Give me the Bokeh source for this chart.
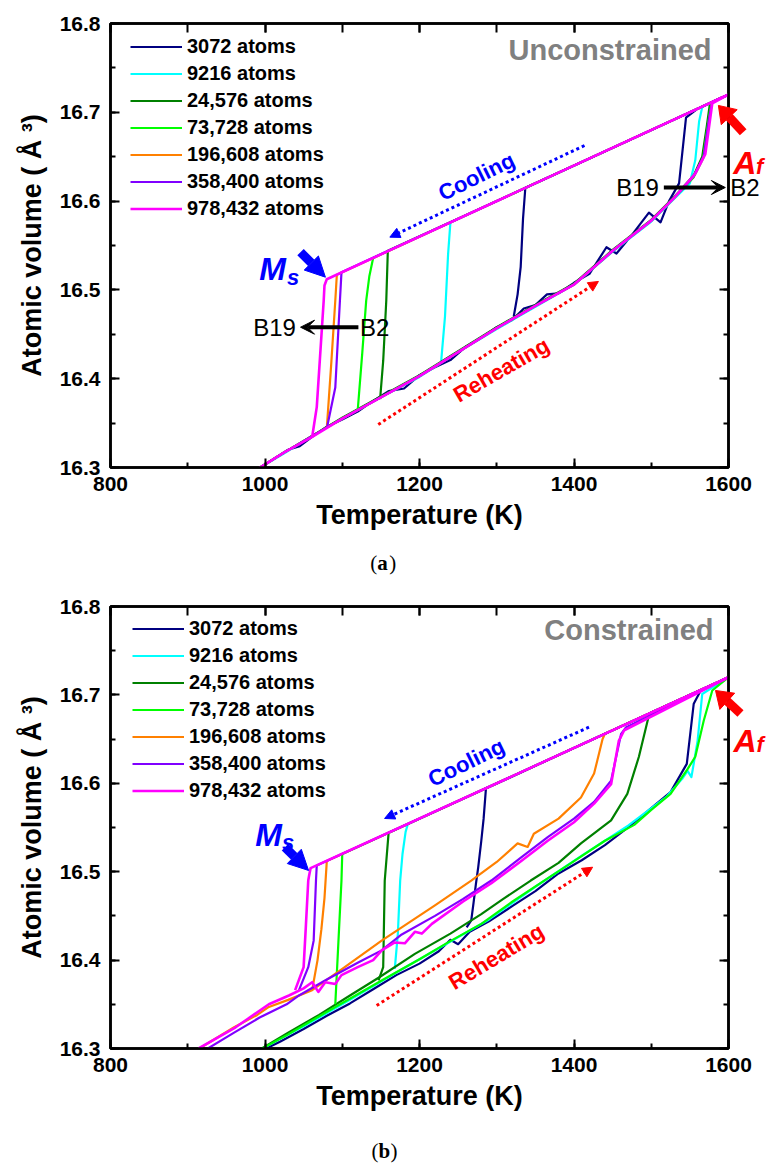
import math
from bokeh.plotting import figure
from bokeh.layouts import column
from bokeh.models import (Label, Arrow, NormalHead, VeeHead, Legend, LegendItem,
                          LinearAxis, SingleIntervalTicker)
from bokeh.core.properties import value
from bokeh.embed import file_html
from bokeh.resources import INLINE

SANS = "Liberation Sans"
SERIF = "Liberation Serif"

RUN_LABELS = ["3072 atoms", "9216 atoms", "24,576 atoms", "73,728 atoms",
              "196,608 atoms", "358,400 atoms", "978,432 atoms"]
RUN_COLORS = ["#000080", "#00FFFF", "#008000", "#00FF00", "#FF8000", "#8000FF", "#FF00FF"]

# ---------------- (a) unconstrained cells ----------------
# cooling: B2 branch from 1600 K down to the martensitic drop
# heating: B19 branch from 990 K up to the reverse jump, then B2 to 1600 K
unc_3072_cool_T = [1600, 1470, 1337, 1334, 1331, 1327, 1322]
unc_3072_cool_V = [16.720, 16.668, 16.615, 16.580, 16.526, 16.495, 16.470]
unc_3072_heat_T = [990, 1010, 1030, 1045, 1060, 1080, 1100, 1120, 1140, 1160, 1180, 1200, 1220,
                   1240, 1260, 1280, 1300, 1320, 1335, 1350, 1365, 1380, 1400, 1420, 1442, 1455,
                   1475, 1497, 1512, 1523, 1536, 1545, 1560, 1600]
unc_3072_heat_V = [16.298, 16.309, 16.320, 16.324, 16.334, 16.346, 16.354, 16.363, 16.375, 16.386,
                   16.389, 16.404, 16.413, 16.421, 16.436, 16.446, 16.458, 16.466, 16.479, 16.483,
                   16.495, 16.496, 16.508, 16.518, 16.548, 16.541, 16.562, 16.587, 16.576, 16.600,
                   16.620, 16.694, 16.704, 16.720]

unc_9216_cool_T = [1600, 1420, 1240, 1237, 1233, 1228]
unc_9216_cool_V = [16.720, 16.648, 16.576, 16.540, 16.470, 16.419]
unc_9216_heat_T = [990, 1025, 1060, 1100, 1150, 1200, 1250, 1300, 1350, 1400, 1450, 1500, 1530,
                   1550, 1557, 1562, 1566, 1600]
unc_9216_heat_V = [16.298, 16.316, 16.335, 16.355, 16.379, 16.402, 16.430, 16.456, 16.481, 16.506,
                   16.543, 16.577, 16.603, 16.620, 16.646, 16.690, 16.706, 16.720]

unc_24576_cool_T = [1600, 1380, 1159, 1157, 1153, 1149]
unc_24576_cool_V = [16.720, 16.632, 16.544, 16.488, 16.420, 16.377]
unc_24576_heat_T = [990, 1025, 1060, 1100, 1150, 1200, 1250, 1300, 1350, 1400, 1450, 1500, 1530,
                    1555, 1566, 1572, 1576, 1600]
unc_24576_heat_V = [16.298, 16.317, 16.335, 16.356, 16.380, 16.404, 16.431, 16.458, 16.483, 16.507,
                    16.545, 16.579, 16.605, 16.629, 16.650, 16.685, 16.710, 16.720]

unc_73728_cool_T = [1600, 1370, 1140, 1135, 1131, 1126, 1120]
unc_73728_cool_V = [16.720, 16.628, 16.536, 16.515, 16.488, 16.430, 16.364]
unc_73728_heat_T = [990, 1025, 1060, 1100, 1150, 1200, 1250, 1300, 1350, 1400, 1450, 1500, 1530,
                    1555, 1567, 1574, 1578, 1600]
unc_73728_heat_V = [16.298, 16.317, 16.335, 16.355, 16.379, 16.403, 16.430, 16.457, 16.482, 16.506,
                    16.544, 16.578, 16.604, 16.627, 16.648, 16.690, 16.711, 16.720]

unc_196608_cool_T = [1600, 1345, 1093, 1091, 1086, 1080]
unc_196608_cool_V = [16.720, 16.618, 16.517, 16.488, 16.420, 16.344]
unc_196608_heat_T = [990, 1025, 1060, 1100, 1150, 1200, 1250, 1300, 1350, 1400, 1450, 1500, 1530,
                     1555, 1568, 1575, 1579, 1600]
unc_196608_heat_V = [16.298, 16.317, 16.335, 16.355, 16.379, 16.403, 16.430, 16.457, 16.482, 16.506,
                     16.544, 16.578, 16.604, 16.628, 16.650, 16.692, 16.712, 16.720]

unc_358400_cool_T = [1600, 1350, 1099, 1097, 1091, 1080]
unc_358400_cool_V = [16.720, 16.620, 16.520, 16.488, 16.390, 16.344]
unc_358400_heat_T = [990, 1025, 1060, 1100, 1150, 1200, 1250, 1300, 1350, 1400, 1450, 1500, 1530,
                     1555, 1568, 1575, 1579, 1600]
unc_358400_heat_V = [16.298, 16.317, 16.335, 16.355, 16.379, 16.403, 16.430, 16.457, 16.482, 16.506,
                     16.544, 16.578, 16.604, 16.628, 16.651, 16.694, 16.712, 16.720]

unc_978432_cool_T = [1600, 1340, 1080, 1077, 1076, 1067, 1061]
unc_978432_cool_V = [16.720, 16.616, 16.512, 16.505, 16.488, 16.368, 16.334]
unc_978432_heat_T = [990, 1025, 1060, 1100, 1150, 1200, 1250, 1300, 1350, 1400, 1450, 1500, 1530,
                     1557, 1570, 1579, 1600]
unc_978432_heat_V = [16.298, 16.317, 16.334, 16.355, 16.379, 16.403, 16.430, 16.457, 16.482, 16.506,
                     16.544, 16.578, 16.604, 16.631, 16.653, 16.710, 16.720]

# ---------------- (b) constrained cells ----------------
con_3072_cool_T = [1600, 1440, 1286, 1283, 1280, 1276, 1273, 1270, 1267, 1261]
con_3072_cool_V = [16.720, 16.656, 16.594, 16.560, 16.535, 16.505, 16.486, 16.465, 16.445, 16.437]
con_3072_heat_T = [990, 1020, 1050, 1080, 1110, 1140, 1170, 1200, 1225, 1240, 1250, 1265, 1290,
                   1320, 1350, 1380, 1410, 1440, 1470, 1500, 1525, 1546, 1555, 1564, 1600]
con_3072_heat_V = [16.295, 16.308, 16.322, 16.337, 16.351, 16.367, 16.383, 16.396, 16.410, 16.423,
                   16.418, 16.432, 16.444, 16.461, 16.478, 16.498, 16.513, 16.530, 16.550, 16.572,
                   16.590, 16.622, 16.690, 16.705, 16.720]

con_9216_cool_T = [1600, 1390, 1185, 1182, 1178, 1175, 1172, 1168]
con_9216_cool_V = [16.720, 16.636, 16.554, 16.545, 16.520, 16.490, 16.430, 16.390]
con_9216_heat_T = [990, 1050, 1110, 1170, 1230, 1290, 1350, 1410, 1470, 1520, 1540, 1547, 1552,
                   1560, 1566, 1600]
con_9216_heat_V = [16.297, 16.325, 16.355, 16.386, 16.416, 16.446, 16.483, 16.518, 16.552, 16.585,
                   16.605, 16.614, 16.607, 16.648, 16.701, 16.720]

con_24576_cool_T = [1600, 1380, 1160, 1155, 1153, 1147]
con_24576_cool_V = [16.720, 16.632, 16.544, 16.490, 16.392, 16.377]
con_24576_heat_T = [990, 1030, 1070, 1110, 1147, 1194, 1240, 1280, 1308, 1344, 1380, 1409, 1448,
                    1469, 1484, 1497, 1502, 1600]
con_24576_heat_V = [16.297, 16.318, 16.338, 16.360, 16.380, 16.407, 16.430, 16.452, 16.469, 16.490,
                    16.510, 16.532, 16.558, 16.588, 16.630, 16.677, 16.681, 16.720]

con_73728_cool_T = [1600, 1350, 1100, 1099, 1095, 1091]
con_73728_cool_V = [16.720, 16.620, 16.520, 16.490, 16.420, 16.350]
con_73728_heat_T = [990, 1030, 1091, 1151, 1200, 1237, 1280, 1320, 1360, 1400, 1440, 1478, 1500,
                    1525, 1547, 1557, 1568, 1579, 1600]
con_73728_heat_V = [16.297, 16.316, 16.347, 16.377, 16.401, 16.420, 16.441, 16.466, 16.489, 16.512,
                    16.535, 16.553, 16.570, 16.588, 16.616, 16.630, 16.671, 16.705, 16.720]

con_196608_cool_T = [1600, 1340, 1080, 1077, 1073, 1068, 1061]
con_196608_cool_V = [16.720, 16.616, 16.512, 16.470, 16.435, 16.400, 16.366]
con_196608_heat_T = [915, 960, 990, 1005, 1030, 1061, 1100, 1151, 1177, 1220, 1267, 1300, 1327,
                     1340, 1348, 1380, 1409, 1426, 1437, 1440, 1600]
con_196608_heat_V = [16.300, 16.324, 16.338, 16.347, 16.355, 16.366, 16.390, 16.422, 16.437, 16.462,
                     16.490, 16.511, 16.532, 16.528, 16.543, 16.560, 16.584, 16.611, 16.650, 16.656,
                     16.720]

con_358400_cool_T = [1600, 1330, 1067, 1066, 1063, 1056, 1044]
con_358400_cool_V = [16.720, 16.612, 16.507, 16.490, 16.422, 16.392, 16.366]
con_358400_heat_T = [926, 960, 993, 1028, 1044, 1080, 1120, 1151, 1177, 1220, 1256, 1293, 1330,
                     1366, 1400, 1426, 1448, 1461, 1467, 1600]
con_358400_heat_V = [16.300, 16.318, 16.335, 16.350, 16.360, 16.378, 16.397, 16.411, 16.429, 16.450,
                     16.469, 16.490, 16.515, 16.539, 16.560, 16.579, 16.603, 16.656, 16.663, 16.720]

con_978432_cool_T = [1600, 1330, 1059, 1057, 1056, 1053, 1050, 1039]
con_978432_cool_V = [16.720, 16.612, 16.504, 16.495, 16.490, 16.440, 16.392, 16.366]
con_978432_heat_T = [914, 962, 1005, 1031, 1050, 1061, 1069, 1078, 1091, 1099, 1120, 1140, 1151,
                     1168, 1181, 1194, 1203, 1216, 1256, 1293, 1330, 1366, 1400, 1426, 1448, 1458,
                     1465, 1600]
con_978432_heat_V = [16.300, 16.324, 16.350, 16.360, 16.368, 16.375, 16.364, 16.375, 16.373, 16.383,
                     16.392, 16.400, 16.411, 16.420, 16.419, 16.432, 16.430, 16.441, 16.466, 16.487,
                     16.511, 16.535, 16.556, 16.577, 16.599, 16.648, 16.660, 16.720]

UNC_RUNS = [
    (unc_3072_cool_T, unc_3072_cool_V, unc_3072_heat_T, unc_3072_heat_V),
    (unc_9216_cool_T, unc_9216_cool_V, unc_9216_heat_T, unc_9216_heat_V),
    (unc_24576_cool_T, unc_24576_cool_V, unc_24576_heat_T, unc_24576_heat_V),
    (unc_73728_cool_T, unc_73728_cool_V, unc_73728_heat_T, unc_73728_heat_V),
    (unc_196608_cool_T, unc_196608_cool_V, unc_196608_heat_T, unc_196608_heat_V),
    (unc_358400_cool_T, unc_358400_cool_V, unc_358400_heat_T, unc_358400_heat_V),
    (unc_978432_cool_T, unc_978432_cool_V, unc_978432_heat_T, unc_978432_heat_V),
]
CON_RUNS = [
    (con_3072_cool_T, con_3072_cool_V, con_3072_heat_T, con_3072_heat_V),
    (con_9216_cool_T, con_9216_cool_V, con_9216_heat_T, con_9216_heat_V),
    (con_24576_cool_T, con_24576_cool_V, con_24576_heat_T, con_24576_heat_V),
    (con_73728_cool_T, con_73728_cool_V, con_73728_heat_T, con_73728_heat_V),
    (con_196608_cool_T, con_196608_cool_V, con_196608_heat_T, con_196608_heat_V),
    (con_358400_cool_T, con_358400_cool_V, con_358400_heat_T, con_358400_heat_V),
    (con_978432_cool_T, con_978432_cool_V, con_978432_heat_T, con_978432_heat_V),
]


def style_axis(ax, labels=True, minor_in=5):
    ax.axis_line_width = 2.5
    ax.axis_line_color = "black"
    ax.major_tick_in = 9
    ax.major_tick_out = 0
    ax.minor_tick_in = minor_in
    ax.minor_tick_out = 0
    ax.major_tick_line_width = 2
    ax.minor_tick_line_width = 2
    if labels:
        ax.major_label_text_font = SANS
        ax.major_label_text_font_style = "bold"
        ax.major_label_text_font_size = "21px"
        ax.major_label_text_color = "black"
        ax.axis_label_text_font = SANS
        ax.axis_label_text_font_style = "bold"
        ax.axis_label_text_font_size = "27px"
        ax.axis_label_text_color = "black"
    else:
        # mirrored frame axis: ticks only
        ax.major_label_text_color = None
        ax.major_label_text_font_size = "8px"
        ax.major_label_standoff = 0


def add_label(p, x, y, text, size, color="black", style="bold", angle=0,
              align="left", baseline="alphabetic"):
    p.add_layout(Label(x=x, y=y, text=text, text_font=SANS, text_font_size=f"{size}px",
                       text_font_style=style, text_color=color, angle=angle,
                       angle_units="deg", text_align=align, text_baseline=baseline))


def add_text(p, x, y, text, size, color="black", style="bold", baseline="alphabetic",
             font=SANS, x_offset=0):
    # text glyph on the overlay level, so it may sit beside the frame
    p.text(x=[x], y=[y], text=[text], text_font=value(font), text_font_size=f"{size}px",
           text_font_style=style, text_color=color, text_baseline=baseline,
           text_align="left", x_offset=x_offset, level="overlay")


def add_caption(p, x, y, letter):
    add_text(p, x, y, "(", 21, style="normal", baseline="middle", font=SERIF, x_offset=-13)
    add_text(p, x, y, letter, 21, style="bold", baseline="middle", font=SERIF, x_offset=-6)
    add_text(p, x, y, ")", 21, style="normal", baseline="middle", font=SERIF, x_offset=6)


def add_arrow(p, x0, y0, x1, y1, color, width, dash="solid", head=None):
    p.add_layout(Arrow(x_start=x0, y_start=y0, x_end=x1, y_end=y1, line_color=color,
                       line_width=width, line_dash=dash, end=head))


def block_arrow(p, x0, y0, x1, y1, color, width, head_len, head_half, kx, ky):
    # thick arrow built from glyphs on the overlay level; kx, ky = pixels per data unit
    dx, dy = (x1 - x0) * kx, (y1 - y0) * ky
    L = math.hypot(dx, dy)
    ux, uy = dx / L, dy / L
    bx, by = x1 - head_len * ux / kx, y1 - head_len * uy / ky
    lx, ly = bx - head_half * uy / kx, by + head_half * ux / ky
    rx, ry = bx + head_half * uy / kx, by - head_half * ux / ky
    p.segment(x0=[x0], y0=[y0], x1=[bx], y1=[by], line_color=color, line_width=width,
              level="overlay")
    p.patch([x1, lx, rx], [y1, ly, ry], fill_color=color, line_color=color, line_width=1,
            level="overlay")


def make_panel(runs, height, left, right, bottom, legend_loc):
    p = figure(width=770, height=height, x_range=(800, 1600), y_range=(16.3, 16.8),
               output_backend="svg", toolbar_location=None,
               min_border_left=left, min_border_right=right, min_border_top=23,
               min_border_bottom=bottom)
    p.xgrid.visible = False
    p.ygrid.visible = False
    p.outline_line_color = "black"
    p.outline_line_width = 2.5
    p.background_fill_color = "white"
    p.border_fill_color = "white"

    p.xaxis.ticker = SingleIntervalTicker(interval=200, num_minor_ticks=2)
    p.yaxis.ticker = SingleIntervalTicker(interval=0.1, num_minor_ticks=2)
    style_axis(p.xaxis[0])
    style_axis(p.yaxis[0])
    p.xaxis.axis_label = "Temperature (K)"
    p.yaxis.axis_label = "Atomic volume ( Å ³)"
    p.xaxis.major_label_standoff = 9
    p.xaxis.axis_label_standoff = 6
    p.yaxis.major_label_standoff = 10
    p.yaxis.axis_label_standoff = 10

    top = LinearAxis(ticker=SingleIntervalTicker(interval=200, num_minor_ticks=2))
    style_axis(top, labels=False, minor_in=9)
    p.add_layout(top, "above")
    rgt = LinearAxis(ticker=SingleIntervalTicker(interval=0.1, num_minor_ticks=2))
    style_axis(rgt, labels=False)
    p.add_layout(rgt, "right")

    items = []
    for (cT, cV, hT, hV), color, name in zip(runs, RUN_COLORS, RUN_LABELS):
        lw = 2.6 if color == "#FF00FF" else 2.2
        r = p.line(hT, hV, line_color=color, line_width=lw, line_join="round")
        p.line(cT, cV, line_color=color, line_width=lw, line_join="round")
        items.append(LegendItem(label=name, renderers=[r]))

    leg = Legend(items=items, location=legend_loc, padding=0, margin=0, spacing=0,
                 glyph_width=52, glyph_height=27, label_height=27, label_standoff=5,
                 label_text_font=SANS, label_text_font_style="bold",
                 label_text_font_size="20px", label_text_color="black",
                 border_line_color=None, background_fill_alpha=0)
    p.add_layout(leg, "center")
    return p


# ---------- panel (a) ----------
KXA, KYA = 623 / 800, 444 / 0.5
pa = make_panel(UNC_RUNS, 583, 110, 37, 116, (20, 245))
add_label(pa, 1578, 16.7696, "Unconstrained", 29, color="#808080", align="right", baseline="middle")
add_label(pa, 1273.7, 16.6277, "Cooling", 22, color="#0000FF", angle=26, align="center", baseline="middle")
add_arrow(pa, 1413.6, 16.6626, 1161.6, 16.5594, "#0000FF", 3, "3 3",
          NormalHead(size=10, fill_color="#0000FF", line_color="#0000FF", line_width=1))
add_label(pa, 1305.8, 16.410, "Reheating", 22, color="#FF0000", angle=30, align="center", baseline="middle")
add_arrow(pa, 1146.6, 16.3484, 1431.6, 16.5095, "#FF0000", 3, "3 3",
          NormalHead(size=10, fill_color="#FF0000", line_color="#FF0000", line_width=1))
add_label(pa, 992.6, 16.5238, "M", 32, color="#0000FF", style="bold italic")
add_label(pa, 1028.5, 16.514, "s", 22, color="#0000FF", style="bold italic")
add_arrow(pa, 1046, 16.5425, 1078.2, 16.5143, "#0000FF", 9, "solid",
          NormalHead(size=20, fill_color="#0000FF", line_color="#0000FF", line_width=1))
add_text(pa, 1606.2, 16.643, "A", 32, color="#FF0000", style="bold italic")
add_text(pa, 1635.7, 16.6385, "f", 22, color="#FF0000", style="bold italic")
block_arrow(pa, 1619, 16.6776, 1586.9, 16.7077, "#FF0000", 9, 16, 11, KXA, KYA)
add_label(pa, 1509.9, 16.6153, "B19", 24, style="normal", align="right", baseline="middle")
add_arrow(pa, 1516.3, 16.6153, 1595.9, 16.6153, "black", 4, "solid",
          VeeHead(size=14, fill_color="black", line_color="black", line_width=1))
add_text(pa, 1602.3, 16.6153, "B2", 24, style="normal", baseline="middle")
add_label(pa, 1040, 16.458, "B19", 24, style="normal", align="right", baseline="middle")
add_arrow(pa, 1120.9, 16.458, 1046, 16.458, "black", 4, "solid",
          VeeHead(size=14, fill_color="black", line_color="black", line_width=1))
add_label(pa, 1123, 16.458, "B2", 24, style="normal", baseline="middle")
add_caption(pa, 1153.1, 16.193, "a")

# ---------- panel (b) ----------
KXB, KYB = 620 / 800, 442 / 0.5
pb = make_panel(CON_RUNS, 582, 108, 42, 117, (22, 244))
add_label(pb, 1580.6, 16.7729, "Constrained", 29, color="#808080", align="right", baseline="middle")
add_label(pb, 1260.6, 16.6235, "Cooling", 22, color="#0000FF", angle=26, align="center", baseline="middle")
add_arrow(pb, 1419.4, 16.6635, 1154.8, 16.5602, "#0000FF", 3, "3 3",
          NormalHead(size=10, fill_color="#0000FF", line_color="#0000FF", line_width=1))
add_label(pb, 1299.4, 16.404, "Reheating", 22, color="#FF0000", angle=31, align="center", baseline="middle")
add_arrow(pb, 1144.5, 16.3486, 1424.1, 16.5051, "#FF0000", 3, "3 3",
          NormalHead(size=10, fill_color="#FF0000", line_color="#FF0000", line_width=1))
add_label(pb, 987.5, 16.541, "M", 32, color="#0000FF", style="bold italic")
add_label(pb, 1021.9, 16.533, "s", 22, color="#0000FF", style="bold italic")
add_arrow(pb, 1025.8, 16.5277, 1056.4, 16.5014, "#0000FF", 9, "solid",
          NormalHead(size=20, fill_color="#0000FF", line_color="#0000FF", line_width=1))
add_text(pb, 1606.5, 16.6477, "A", 32, color="#FF0000", style="bold italic")
add_text(pb, 1636.1, 16.6435, "f", 22, color="#FF0000", style="bold italic")
block_arrow(pb, 1615.5, 16.679, 1583.2, 16.705, "#FF0000", 9, 16, 11, KXB, KYB)
add_caption(pb, 1154.8, 16.1835, "b")

layout = column(pa, pb, spacing=0)
open("out.html", "w").write(file_html(layout, INLINE))
